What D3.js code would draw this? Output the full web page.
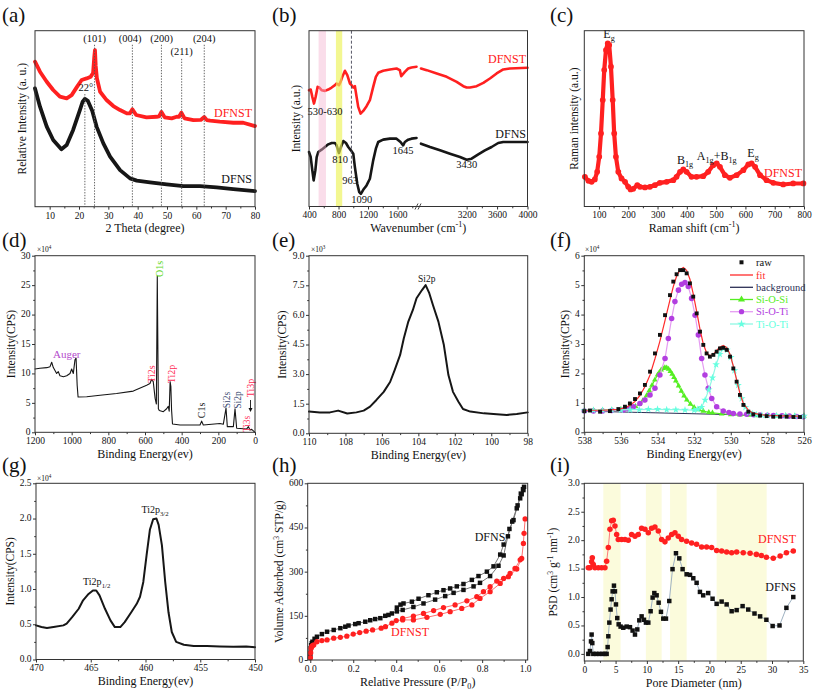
<!DOCTYPE html>
<html><head><meta charset="utf-8">
<script src="https://cdn.jsdelivr.net/npm/d3@7"></script>
<style>body{margin:0;background:#fff} svg{display:block} text{font-family:'Liberation Serif','Times New Roman','DejaVu Serif',serif}</style>
</head><body>
<script>
// ================= DATA =================
// (a) XRD
const xrdX_DFNST = [5,6.7,9,11.2,13.5,15.8,17.5,19.2,20.9,22.6,24,24.8,25.2,25.45,25.7,26.1,27.2,29.4,31.7,34,36.3,37.3,38.2,39.5,43,46.5,47.3,48.1,49.2,51.6,53.3,54.1,54.9,56,59,61.5,62.7,63.6,64.7,68,72.6,76,80];
const xrdY_DFNST = [82.4,76.7,71.0,66.3,62.5,61.6,63.4,67.8,72.0,72.9,73.9,76,85,89,80,73,65.3,60.6,57.2,54.9,53.0,53.0,55.3,52.1,50.8,51.1,51.3,53.8,50.8,50.2,51.1,51.0,53.4,50.2,49.2,49.3,51.0,49.2,48.9,48.3,47.7,47.7,45.8];
const xrdX_DFNS = [5,6.7,9,11.2,14,15.8,18,20.3,21.2,22,23,24.5,26,28.3,30.6,34,37.4,39.7,44.2,49.9,55.6,61.2,66.9,72.6,80];
const xrdY_DFNS = [67.2,56.8,45.5,37.9,32.6,35.0,43.6,54.9,59.5,61.3,60.2,54.5,45.5,36.0,28.4,20.8,16.1,14.8,13.8,12.7,11.7,11.7,11.0,10.0,8.9];
const xrdRefX = [22,25.3,38.2,48.1,55,62.7];
const xrdRefLabels = ['22°','(101)','(004)','(200)','(211)','(204)'];
const xrdTicks = [10,20,30,40,50,60,70,80];

// (b) FTIR (broken axis)
const irX_DFNST_L = [400,423,445,468,490,517,540,571,616,661,707,752,774,806,828,855,887,919,955,977,1000,1022,1045,1067,1099,1135,1180,1225,1270,1306,1338,1405,1496,1586,1631,1650,1699,1744,1789,1857];
const irY_DFNST_L = [340,342,320,300,320,350,348,340,338,342,348,355,360,355,365,382,398,385,360,355,348,352,320,290,270,278,292,310,350,380,392,398,402,405,400,382,395,405,408,410];
const irX_DFNST_R = [2600,2675,2807,2938,3069,3156,3200,3244,3331,3419,3506,3594,3681,3768,4000];
const irY_DFNST_R = [405,400,390,380,365,352,348,348,352,362,375,390,402,405,407];
const irX_DFNS_L = [400,423,445,463,486,504,526,571,616,661,707,752,774,806,833,865,901,932,968,1000,1022,1054,1081,1103,1135,1180,1225,1270,1306,1338,1405,1496,1586,1640,1676,1699,1744,1789,1857];
const irY_DFNS_L = [155,140,100,70,100,140,155,162,170,178,182,182,175,152,170,188,182,170,160,150,110,60,35,30,42,55,75,130,165,185,192,195,195,185,175,185,192,195,197];
const irX_DFNS_R = [2600,2719,2850,2981,3113,3200,3265,3353,3440,3528,3615,3681,4000];
const irY_DFNS_R = [180,170,160,150,140,132,135,148,160,170,182,185,185];
const irTicksL = [400,800,1200,1600];
const irTicksR = [3200,3600,4000];
const irBands = [[530,630],[765,850]];
const irDash = 975;

// (c) Raman
const ramX = [52,64,75,86,94,101,107,113,118,124,130,135,141,147,152,158,166,177,189,200,208,217,231,240,257,274,291,308,331,354,365,377,388,399,416,433,456,473,490,502,513,530,547,570,593,610,621,633,650,672,695,729,763,798];
const ramY = [85,73,70,77,100,145,215,315,405,465,485,480,415,315,215,145,100,80,70,55,47,49,60,55,53,55,60,67,70,75,85,100,107,100,85,85,87,100,120,125,115,90,82,90,105,122,125,115,90,75,67,62,65,65];
const ramTicks = [100,200,300,400,500,600,700,800];

// (d) XPS survey (x10^4)
const surX = [1200,1173,1136,1118,1109,1100,1082,1073,1064,1045,1027,1009,1000,991,982,976,970,965,918,845,755,664,591,573,564,555,545,538,533,527,522,500,482,473,468,463,459,455,450,409,300,291,282,191,173,158,151,118,109,100,45,36,27,18,0];
const surY = [10.75,10.87,10.98,11.15,11.9,11.0,10.0,10.3,9.6,9.45,9.6,10.0,10.75,10.0,12.3,12.6,8.0,6.0,6.05,6.3,6.6,7.0,8.0,8.3,9.0,8.6,5.8,4.8,26.5,4.0,3.7,3.5,4.0,4.4,3.6,8.6,7.8,3.8,1.4,1.25,1.25,1.9,1.25,1.5,1.36,4.1,0.96,0.96,4.0,0.68,0.57,0.96,0.4,0.5,0];
const surTicksX = [1200,1000,800,600,400,200,0];
const surTicksY = [0,5,10,15,20,25,30];

// (e) Si2p (x10^3)
const siX = [110,109.4,108.85,108.4,107.9,107.4,107.0,106.65,106.3,105.9,105.55,105.3,105.0,104.8,104.55,104.3,104.1,103.8,103.6,103.4,103.2,102.9,102.6,102.35,102.1,101.8,101.55,101.15,100.4,99.7,99.15,98.6,98];
const siY = [1.10,1.06,1.06,1.15,1.0,1.06,1.15,1.35,1.69,2.1,2.6,3.2,3.97,4.8,5.66,6.25,6.84,7.26,7.51,7.1,6.5,5.66,4.47,2.95,2.1,1.6,1.23,1.10,1.01,0.96,0.93,0.98,1.06];
const siTicksX = [110,108,106,104,102,100,98];
const siTicksY = [0,1.5,3,4.5,6,7.5,9];

// (f) O1s fit (x10^4)
const o1X = [538.00,537.69,537.14,536.60,536.14,535.78,535.51,535.23,534.96,534.69,534.41,534.14,533.87,533.59,533.32,533.14,532.96,532.77,532.59,532.41,532.23,532.05,531.86,531.68,531.50,531.32,531.14,530.95,530.77,530.59,530.41,530.22,530.04,529.86,529.68,529.50,529.31,529.04,528.77,528.40,528.04,527.68,527.31,526.95,526.58,526.22];
const o1Raw = [0.72,0.74,0.70,0.72,0.79,0.87,0.98,1.13,1.32,1.61,2.06,2.68,3.31,3.98,4.66,5.12,5.37,5.51,5.51,5.40,5.06,4.61,4.04,3.42,2.97,2.68,2.57,2.63,2.74,2.85,2.87,2.80,2.57,2.17,1.72,1.27,0.93,0.70,0.61,0.57,0.55,0.53,0.53,0.53,0.52,0.52];
const o1Fit = [0.75,0.75,0.75,0.76,0.78,0.83,0.92,1.05,1.25,1.55,1.95,2.5,3.1,3.8,4.5,4.95,5.3,5.52,5.6,5.5,5.2,4.7,4.1,3.5,3.0,2.7,2.6,2.65,2.78,2.9,2.95,2.88,2.65,2.25,1.78,1.32,0.98,0.75,0.65,0.6,0.58,0.57,0.56,0.56,0.55,0.55];
const o1BgX = [538,526];
const o1BgY = [0.72,0.54];
const sosX = [538,537.5,537,536.5,536,535.7,535.5,535.2,535.0,534.8,534.6,534.45,534.3,534.15,534.0,533.9,533.8,533.7,533.6,533.5,533.4,533.3,533.2,533.1,533.0,532.85,532.7,532.55,532.4,532.2,532.0,531.75,531.5,531.2,531.0,530.5,530.0,529.5,529,528.5,528,527.5,527,526.5,526];
const sosY = [0.74,0.75,0.75,0.76,0.78,0.8,0.83,0.88,0.95,1.08,1.25,1.42,1.6,1.78,1.95,2.04,2.12,2.17,2.2,2.19,2.15,2.07,1.98,1.87,1.75,1.58,1.4,1.24,1.1,0.96,0.85,0.77,0.72,0.68,0.66,0.63,0.6,0.59,0.58,0.57,0.57,0.56,0.56,0.55,0.55];
const sotX = [538.0,537.5,537.0,536.5,535.87,535.6,535.32,534.96,534.69,534.41,534.14,533.87,533.59,533.41,533.23,533.05,532.86,532.68,532.50,532.32,532.14,531.95,531.77,531.59,531.41,531.23,531.04,530.77,530.41,530.1,529.86,529.5,529.13,528.75,528.4,528.0,527.67,527.2,526.8,526.4,526.04];
const sotY = [0.72,0.72,0.72,0.74,0.76,0.8,0.87,0.98,1.1,1.27,1.5,1.95,2.51,3.19,3.87,4.44,4.83,5.03,5.09,4.95,4.55,3.98,3.31,2.51,1.95,1.5,1.15,0.87,0.72,0.67,0.64,0.62,0.61,0.6,0.59,0.58,0.57,0.56,0.55,0.54,0.53];
const totX = [538,537.5,537,536.5,536,535.5,535,534.5,534,533.5,533,532.5,532,531.8,531.6,531.4,531.2,531.0,530.8,530.6,530.4,530.2,530.0,529.8,529.6,529.4,529.2,529.0,528.8,528.6,528.3,528,527.5,527,526.5,526];
const totY = [0.74,0.75,0.75,0.76,0.76,0.77,0.77,0.78,0.78,0.77,0.77,0.76,0.75,0.78,0.85,1.1,1.45,1.85,2.3,2.65,2.85,2.8,2.55,2.1,1.6,1.15,0.85,0.68,0.63,0.6,0.58,0.57,0.56,0.56,0.55,0.55];
const o1TicksX = [538,536,534,532,530,528,526];
const o1TicksY = [0,1,2,3,4,5,6];
const o1Legend = ['raw','fit','background','Si-O-Si','Si-O-Ti','Ti-O-Ti'];

// (g) Ti2p (x10^4)
const tiX = [470,469.5,469.0,468.4,467.5,467.2,466.7,466.1,465.7,465.2,464.8,464.5,464.2,463.7,463.2,462.8,462.3,461.9,461.3,460.8,460.5,460.2,459.9,459.6,459.3,459.0,458.8,458.5,458.2,457.9,457.6,457.2,456.5,455.6,454.4,453.2,452.0,450.8,450];
const tiY = [0.484,0.46,0.446,0.46,0.484,0.51,0.60,0.72,0.84,0.93,0.98,0.98,0.91,0.72,0.555,0.46,0.46,0.53,0.67,0.79,0.89,1.10,1.48,1.84,1.99,2.0,1.91,1.62,1.10,0.67,0.39,0.25,0.21,0.19,0.19,0.185,0.18,0.185,0.175];
const tiTicksX = [470,465,460,455,450];
const tiTicksY = [0,0.5,1,1.5,2,2.5];

// (h) N2 isotherms
const bDFNS_adsX = [0.0005,0.001,0.002,0.004,0.007,0.01,0.02,0.031,0.054,0.078,0.109,0.14,0.163,0.178,0.209,0.225,0.256,0.279,0.302,0.326,0.349,0.364,0.38,0.403,0.43,0.48,0.527,0.581,0.628,0.667,0.713,0.76,0.79,0.837,0.876,0.9,0.927,0.946,0.961,0.977,0.984,0.992];
const bDFNS_adsY = [10,25,40,50,57,62,72,79,88,96,102,108,113,117,122,125,130,135,139,142,150,153,158,165,170,180,192,205,217,228,238,250,262,285,320,355,445,475,515,549,563,577];
const bDFNS_desX = [0.995,0.99,0.98,0.965,0.94,0.92,0.9,0.884,0.853,0.822,0.783,0.752,0.713,0.682,0.651,0.62,0.589,0.55,0.504,0.473,0.434,0.42,0.403];
const bDFNS_desY = [588,580,565,525,470,420,392,358,318,300,285,272,258,250,243,237,230,220,208,198,192,188,178];
const bDFNST_adsX = [0.0005,0.002,0.004,0.007,0.01,0.016,0.031,0.054,0.078,0.109,0.14,0.17,0.2,0.23,0.26,0.29,0.33,0.35,0.38,0.4,0.43,0.48,0.543,0.605,0.651,0.705,0.752,0.79,0.837,0.884,0.922,0.961,0.984,0.992,0.995,1.0];
const bDFNST_adsY = [8,25,40,46,49,51,62,66,68,74,77,81,88,93,98,102,108,113,125,134,136,136,145,155,164,175,187,209,232,260,283,309,345,396,430,479];
const bDFNST_desX = [0.977,0.953,0.93,0.9,0.868,0.837,0.806,0.775,0.729,0.674,0.62,0.574,0.527,0.48,0.43];
const bDFNST_desY = [340,311,294,277,268,249,232,215,201,187,178,168,158,149,141];
const betTicksX = [0,0.2,0.4,0.6,0.8,1.0];
const betTicksY = [0,150,300,450,600];

// (i) pore size distribution
const psdX_DFNST = [0.64,0.9,1.17,1.28,1.44,1.7,2.24,2.77,3.30,3.57,3.84,4.1,4.37,4.63,4.9,5.17,5.43,5.97,6.5,7.03,7.56,8.1,8.63,9.16,9.7,10.23,10.76,11.29,11.83,12.36,12.89,13.42,13.96,14.49,15.02,15.55,16.35,17.15,17.95,18.75,19.55,20.35,21.15,21.95,22.75,23.55,24.35,25.4,26.5,27.5,28.3,29.1,30.2,31.3,32.3,33.4];
const psdY_DFNST = [1.515,1.515,1.62,1.69,1.57,1.515,1.515,1.515,1.515,1.63,1.87,2.19,2.34,2.35,2.25,2.10,2.01,2.01,2.01,2.0,2.10,2.07,2.10,2.21,2.19,2.13,2.21,2.23,2.16,2.01,1.97,2.04,2.10,2.13,2.07,2.01,1.98,1.95,1.93,1.88,1.88,1.87,1.82,1.81,1.79,1.78,1.79,1.78,1.77,1.75,1.73,1.70,1.68,1.72,1.78,1.81];
const psdX_DFNS = [0.64,0.9,1.07,1.17,1.28,1.44,1.9,2.4,2.9,3.3,3.57,3.73,3.84,4.0,4.2,4.37,4.53,4.74,4.9,5.06,5.27,5.49,5.8,6.23,6.77,7.3,7.72,8.1,8.47,8.79,9.16,9.54,9.85,10.23,10.6,10.92,11.19,11.56,11.88,12.25,12.62,13.05,13.58,14.1,14.65,15.18,15.71,16.35,16.9,17.42,17.95,18.48,19.0,19.8,20.5,21.15,21.95,22.75,23.55,24.35,25.3,26.2,27.2,28.1,29.1,30.1,31.2,32.3,33.4];
const psdY_DFNS = [0.0,0.05,0.22,0.34,0.19,0.0,0.0,0.0,0.0,0.0,0.0,0.12,0.31,0.55,0.78,0.96,1.10,1.20,1.10,0.87,0.63,0.52,0.48,0.46,0.48,0.47,0.41,0.34,0.43,0.59,0.66,0.60,0.55,0.55,0.75,0.99,1.07,1.03,0.90,0.74,0.62,0.62,0.93,1.49,1.77,1.68,1.49,1.40,1.39,1.33,1.25,1.09,1.03,1.07,0.97,0.88,0.92,0.87,0.75,0.77,0.84,0.78,0.71,0.66,0.60,0.49,0.50,0.81,1.0];
const psdBands = [[3.04,5.8],[9.85,12.36],[13.7,16.35],[21.15,29.14]];
const psdTicksX = [0,5,10,15,20,25,30,35];
const psdTicksY = [0,0.5,1,1.5,2,2.5,3];

// ================= DRAWING =================
const FONT = "'Liberation Serif','Times New Roman','DejaVu Serif',serif";
const TICKFS = 9.5;
const svg = d3.select('body').append('svg').attr('width',813).attr('height',691).attr('font-family',FONT);
const zip = (xs,ys)=>xs.map((v,i)=>[v,ys[i]]);

function richText(sel,x,y,str,size,opt={}){
  const t = sel.append('text').attr('x',x).attr('y',y).attr('font-size',size).attr('font-family',FONT)
    .attr('text-anchor',opt.anchor||'start').attr('fill',opt.color||'#111');
  if(opt.rotate) t.attr('transform',`rotate(${opt.rotate},${x},${y})`);
  const re=/([_^])\{([^}]*)\}|([^_^]+)/g; let m, cur=0;
  while((m=re.exec(str))){
    let txt, off=0, small=false;
    if(m[3]!==undefined){txt=m[3];} else {txt=m[2]; small=true; off = m[1]==='_'? size*0.28 : -size*0.38;}
    const ts=t.append('tspan').text(txt).attr('dy',(off-cur).toFixed(2));
    if(small) ts.attr('font-size',(size*0.68).toFixed(1));
    cur=off;
  }
  return t;
}
function panel(l,t,r,b,xd,yd){
  const g=svg.append('g');
  return {g,l,t,r,b,x:d3.scaleLinear().domain(xd).range([l,r]),y:d3.scaleLinear().domain(yd).range([b,t])};
}
function styl(s){ s.attr('font-family',FONT).attr('font-size',TICKFS); s.select('.domain').remove(); s.selectAll('line').attr('stroke','#333');
  s.selectAll('text').attr('font-family',FONT).attr('font-size',TICKFS).attr('fill','#111'); }
function xAxis(p,scale,ticks,minor,fmt){
  p.g.append('g').attr('transform',`translate(0,${p.b})`).call(d3.axisBottom(scale).tickValues(ticks).tickSize(3).tickPadding(2.2).tickFormat(fmt||(d=>d))).call(styl);
  if(minor) p.g.append('g').attr('transform',`translate(0,${p.b})`).call(d3.axisBottom(scale).tickValues(minor).tickSize(1.8).tickFormat('')).call(styl);
}
function yAxis(p,ticks,minor,fmt){
  const f=fmt||(d=>d);
  p.g.append('g').attr('transform',`translate(${p.l},0)`).call(d3.axisLeft(p.y).tickValues(ticks).tickSize(3).tickFormat('')).call(styl);
  if(minor) p.g.append('g').attr('transform',`translate(${p.l},0)`).call(d3.axisLeft(p.y).tickValues(minor).tickSize(1.8).tickFormat('')).call(styl);
  const lg=p.g.append('g');
  ticks.forEach(d=>lg.append('text').attr('x',p.l-4.5).attr('y',p.y(d)).attr('dy','0.3em').attr('text-anchor','end')
    .attr('font-family',FONT).attr('font-size',TICKFS).attr('fill','#111').text(f(d)));
}
function frame(p){ p.g.append('rect').attr('x',p.l).attr('y',p.t).attr('width',p.r-p.l).attr('height',p.b-p.t).attr('fill','none').attr('stroke','#333').attr('stroke-width',1); }
function titles(p,xt,yt,yx){
  richText(p.g,(p.l+p.r)/2,p.b+25.5,xt,12,{anchor:'middle'});
  richText(p.g,yx,(p.t+p.b)/2,yt,11.5,{anchor:'middle',rotate:-90});
}
function line(p,xs,ys,color,w,xs2){
  const X=xs2||p.x;
  p.g.append('path').datum(zip(xs,ys)).attr('d',d3.line().x(d=>X(d[0])).y(d=>p.y(d[1]))).attr('fill','none').attr('stroke',color).attr('stroke-width',w).attr('stroke-linejoin','round').attr('stroke-linecap','round');
}
function marks(p,xs,ys,type,size,fill,stroke){
  p.g.append('g').selectAll('path').data(zip(xs,ys)).join('path')
   .attr('transform',d=>`translate(${p.x(d[0])},${p.y(d[1])})`)
   .attr('d',d3.symbol().type(type).size(size)).attr('fill',fill).attr('stroke',stroke||'none').attr('stroke-width',0.6);
}
function letter(x,y,s){ svg.append('text').attr('x',x).attr('y',y).attr('font-size',21).attr('font-family',FONT).attr('fill','#111').text(s); }
function expo(x,y,s){ richText(svg,x,y,s,7.5,{}); }
const RED='#ff2020', BLK='#161616';

// ---------- (a) ----------
{
  const p=panel(35,30.7,255,206.7,[5,80],[0,100]);
  line(p,xrdX_DFNS,xrdY_DFNS,BLK,3.8);
  line(p,xrdX_DFNST,xrdY_DFNST,RED,3.8);
  const tops=[64,92,92,92,84,92];
  xrdRefX.forEach((v,i)=>{
    p.g.append('line').attr('x1',p.x(v)).attr('x2',p.x(v)).attr('y1',p.y(tops[i])).attr('y2',p.b)
      .attr('stroke','#555').attr('stroke-width',0.9).attr('stroke-dasharray','1.4,1.4');
  });
  const lx=[p.x(22.3),p.x(25.3),p.x(37.4),p.x(48.2),p.x(55),p.x(62.7)], ly=[90.7,41.7,41.7,41.7,55,41.7];
  xrdRefLabels.forEach((s,i)=>richText(p.g,lx[i],ly[i],s,10.5,{anchor:'middle'}));
  richText(p.g,252,116.7,'DFNST',12,{anchor:'end',color:RED});
  richText(p.g,252,183,'DFNS',12,{anchor:'end'});
  xAxis(p,p.x,xrdTicks,[15,25,35,45,55,65,75]);
  frame(p);
  titles(p,'2 Theta (degree)','Relative Intensity (a. u.)',26);
  letter(2,22,'(a)');
}
// ---------- (b) ----------
{
  const p=panel(309,30.7,527.5,206.5,[400,4000],[-8,518]);
  const xL=d3.scaleLinear().domain([400,1850]).range([309,416]);
  const xR=d3.scaleLinear().domain([2600,4000]).range([421,527.5]);
  line(p,irX_DFNST_L,irY_DFNST_L,RED,2.6,xL);
  line(p,irX_DFNST_R,irY_DFNST_R,RED,2.6,xR);
  line(p,irX_DFNS_L,irY_DFNS_L,BLK,2.6,xL);
  line(p,irX_DFNS_R,irY_DFNS_R,BLK,2.6,xR);
  const bandCol=['#f4b3d0','#ecf256'], bandOp=[0.45,0.65];
  irBands.forEach((b,i)=>p.g.append('rect').attr('x',xL(b[0])).attr('y',p.t).attr('width',xL(b[1])-xL(b[0])).attr('height',p.b-p.t).attr('fill',bandCol[i]).attr('opacity',bandOp[i]));
  p.g.append('line').attr('x1',xL(irDash)).attr('x2',xL(irDash)).attr('y1',p.t).attr('y2',177).attr('stroke','#445').attr('stroke-width',0.9).attr('stroke-dasharray','3,2');
  const lab=[['530-630',325,115],['810',340,163],['963',350,184],['1090',361.7,202.5],['1645',403,154],['3430',466.7,168]];
  lab.forEach(d=>richText(p.g,d[1],d[2],d[0],10.5,{anchor:'middle'}));
  richText(p.g,526,63,'DFNST',12,{anchor:'end',color:RED});
  richText(p.g,526,138,'DFNS',12,{anchor:'end'});
  xAxis(p,xL,irTicksL,[600,1000,1400,1800]);
  xAxis(p,xR,irTicksR,[3400,3800]);
  frame(p);
  [416.5,419.5].forEach(x=>p.g.append('line').attr('x1',x-1.5).attr('x2',x+1.5).attr('y1',p.b+3).attr('y2',p.b-3).attr('stroke','#333').attr('stroke-width',0.9));
  titles(p,'Wavenumber (cm^{-1})','Intensity (a.u.)',300);
  letter(272,22,'(b)');
}
// ---------- (c) ----------
{
  const p=panel(584.3,30.7,804,206.5,[50,800],[-4,523]);
  line(p,ramX,ramY,RED,4.2);
  marks(p,ramX,ramY,d3.symbolCircle,26,RED);
  richText(p.g,609,38,'E_{g}',12,{anchor:'middle'});
  richText(p.g,685,163.5,'B_{1g}',12,{anchor:'middle'});
  richText(p.g,716.7,159.5,'A_{1g}+B_{1g}',12,{anchor:'middle'});
  richText(p.g,753,156.5,'E_{g}',12,{anchor:'middle'});
  richText(p.g,802,176.7,'DFNST',12,{anchor:'end',color:RED});
  xAxis(p,p.x,ramTicks,[150,250,350,450,550,650,750]);
  frame(p);
  titles(p,'Raman shift (cm^{-1})','Raman intensity (a.u.)',578);
  letter(550,22,'(c)');
}
// ---------- (d) ----------
{
  const p=panel(35,255.7,255,432.3,[1200,0],[0,30]);
  line(p,surX,surY,BLK,1.1);
  const ann=[['O1s',162.5,269,'#5cd61c',10],['Ti2s',155,374,'#ff2a55',10],['Ti2p',175,374,'#ff2a55',10],['C1s',205,410.5,'#222',10],['Si2s',229.5,400,'#3a4a70',9.5],['Si2p',240.5,400,'#3a4a70',9.5],['Ti3s',249.5,424,'#ff2a55',9.5],['Ti3p',254,388,'#ff2a55',10]];
  ann.forEach(d=>richText(p.g,d[1],d[2],d[0],d[4],{anchor:'middle',rotate:-90,color:d[3]}));
  richText(p.g,66.7,358,'Auger',11,{anchor:'middle',color:'#b44ccc'});
  p.g.append('line').attr('x1',250.5).attr('x2',250.5).attr('y1',400).attr('y2',410).attr('stroke','#111').attr('stroke-width',0.9);
  p.g.append('path').attr('d','M248.5,408 L252.5,408 L250.5,412 Z').attr('fill','#111');
  xAxis(p,p.x,surTicksX,[1100,900,700,500,300,100]);
  yAxis(p,surTicksY,[2.5,7.5,12.5,17.5,22.5,27.5]);
  frame(p);
  titles(p,'Binding Energy(ev)','Intensity(CPS)',14.5);
  expo(37,252,'×10^{4}');
  letter(2,247,'(d)');
}
// ---------- (e) ----------
{
  const p=panel(309,255.7,527.7,433.3,[110,98],[0,9]);
  line(p,siX,siY,BLK,2);
  richText(p.g,426.7,282.3,'Si2p',9.5,{anchor:'middle'});
  xAxis(p,p.x,siTicksX,[109,107,105,103,101,99]);
  yAxis(p,siTicksY,[0.75,2.25,3.75,5.25,6.75,8.25],d3.format('.1f'));
  frame(p);
  titles(p,'Binding Energy(ev)','Intensity(CPS)',286);
  expo(311,252,'×10^{3}');
  letter(272,247,'(e)');
}
// ---------- (f) ----------
{
  const p=panel(584.3,255.7,804,432.3,[538,526],[0,6]);
  const cG='#55ee22', cP='#b23ee0', cPl='#e59cf2', cC='#66ffe0', cCl='#8ff7e4', cBg='#2c2f55';
  line(p,o1BgX,o1BgY,cBg,1);
  line(p,sosX,sosY,cG,1.2);
  marks(p,sosX,sosY,d3.symbolTriangle,14,cG);
  line(p,sotX,sotY,cPl,1.2);
  marks(p,sotX,sotY,d3.symbolCircle,24,cP);
  line(p,totX,totY,cCl,1.2);
  marks(p,totX,totY,d3.symbolStar,18,cC);
  line(p,o1X,o1Fit,'#ff2b2b',1.2);
  marks(p,o1X,o1Raw,d3.symbolSquare,15,'#111');
  const ly=[262.3,275,287.3,299.5,311.7,324];
  const lc=['#111','#ff2b2b',cBg,cG,cPl,cCl], tc=['#111','#ff2b2b',cBg,cG,cP,cC];
  const sym=[d3.symbolSquare,null,null,d3.symbolTriangle,d3.symbolCircle,d3.symbolStar], sc=['#111',null,null,cG,cP,cC];
  o1Legend.forEach((s,i)=>{
    if(i>0) p.g.append('line').attr('x1',730).attr('x2',753).attr('y1',ly[i]).attr('y2',ly[i]).attr('stroke',lc[i]).attr('stroke-width',1.3);
    if(sym[i]) p.g.append('path').attr('transform',`translate(741.5,${ly[i]})`).attr('d',d3.symbol().type(sym[i]).size(i==0?16:22)).attr('fill',sc[i]);
    richText(p.g,756,ly[i]+3.5,s,10.5,{color:tc[i]});
  });
  xAxis(p,p.x,o1TicksX,[537,535,533,531,529,527]);
  yAxis(p,o1TicksY,[0.5,1.5,2.5,3.5,4.5,5.5]);
  frame(p);
  titles(p,'Binding Energy(ev)','Intensity(CPS)',569);
  expo(585,252,'×10^{4}');
  letter(550,247,'(f)');
}
// ---------- (g) ----------
{
  const p=panel(36,483.3,255,659.5,[470,450],[0,2.5]);
  line(p,tiX,tiY,BLK,2);
  richText(p.g,155,513.3,'Ti2p_{3/2}',10,{anchor:'middle'});
  richText(p.g,96.7,585,'Ti2p_{1/2}',10,{anchor:'middle'});
  xAxis(p,p.x,tiTicksX,[467.5,462.5,457.5,452.5]);
  yAxis(p,tiTicksY,[0.25,0.75,1.25,1.75,2.25],d3.format('.1f'));
  frame(p);
  titles(p,'Binding Energy(ev)','Intensity(CPS)',14.5);
  expo(37,481,'×10^{4}');
  letter(2,472,'(g)');
}
// ---------- (h) ----------
{
  const p=panel(307.7,483.3,527.7,660,[-0.012,1.012],[0,600]);
  line(p,bDFNS_adsX,bDFNS_adsY,'#777',1);
  line(p,bDFNS_desX,bDFNS_desY,'#777',1);
  line(p,bDFNST_adsX,bDFNST_adsY,'#ff7070',1);
  line(p,bDFNST_desX,bDFNST_desY,'#ff7070',1);
  marks(p,bDFNS_adsX,bDFNS_adsY,d3.symbolSquare,20,'#111');
  marks(p,bDFNS_desX,bDFNS_desY,d3.symbolSquare,20,'#111');
  marks(p,bDFNST_adsX,bDFNST_adsY,d3.symbolCircle,22,RED);
  marks(p,bDFNST_desX,bDFNST_desY,d3.symbolCircle,22,RED);
  richText(p.g,490,541,'DFNS',12,{anchor:'middle'});
  richText(p.g,410,636,'DFNST',12,{anchor:'middle',color:RED});
  xAxis(p,p.x,betTicksX,[0.1,0.3,0.5,0.7,0.9],d3.format('.1f'));
  yAxis(p,betTicksY,[75,225,375,525]);
  frame(p);
  titles(p,'Relative Pressure (P/P_{0})','Volume Adsorbed (cm^{3} STP/g)',283);
  letter(272,472,'(h)');
}
// ---------- (i) ----------
{
  const p=panel(584.3,483.3,803.3,661,[0,35],[-0.125,3.0]);
  psdBands.forEach(b=>p.g.append('rect').attr('x',p.x(b[0])).attr('y',p.t+0.5).attr('width',p.x(b[1])-p.x(b[0])).attr('height',p.b-p.t-1).attr('fill','#fafad6').attr('opacity',0.85));
  line(p,psdX_DFNS,psdY_DFNS,'#9fb2c2',1);
  line(p,psdX_DFNST,psdY_DFNST,'#ff7a7a',1);
  marks(p,psdX_DFNS,psdY_DFNS,d3.symbolSquare,20,'#111');
  marks(p,psdX_DFNST,psdY_DFNST,d3.symbolCircle,24,RED);
  richText(p.g,796,543.3,'DFNST',12,{anchor:'end',color:RED});
  richText(p.g,796,591,'DFNS',12,{anchor:'end'});
  xAxis(p,p.x,psdTicksX,[2.5,7.5,12.5,17.5,22.5,27.5,32.5]);
  yAxis(p,psdTicksY,[0.25,0.75,1.25,1.75,2.25,2.75],d3.format('.1f'));
  frame(p);
  titles(p,'Pore Diameter (nm)','PSD (cm^{3} g^{-1} nm^{-1})',557);
  letter(550,472,'(i)');
}
</script>
</body></html>
